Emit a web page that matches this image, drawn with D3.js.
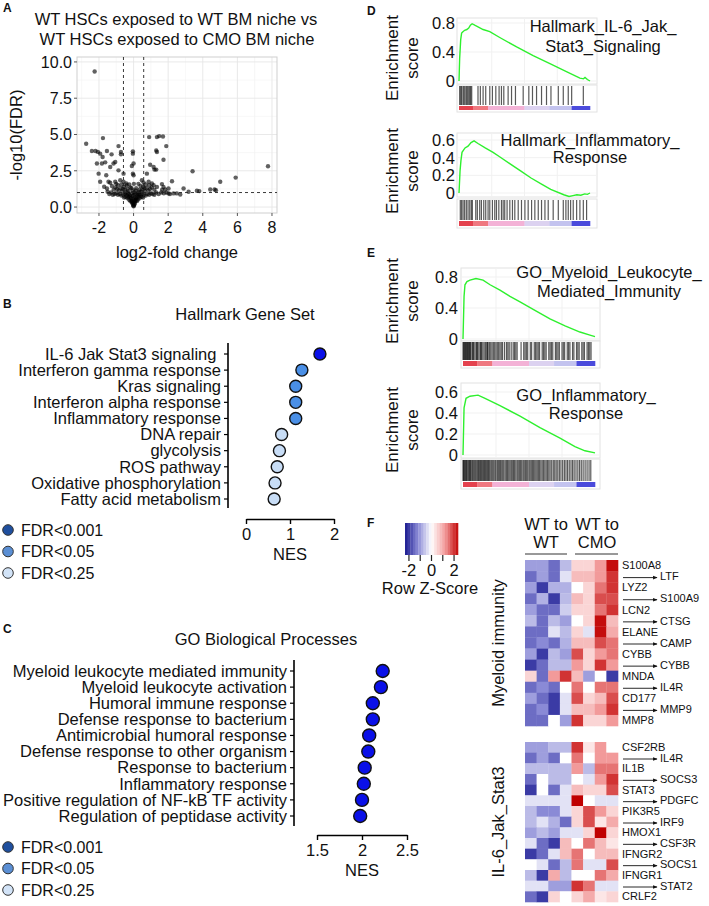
<!DOCTYPE html>
<html><head><meta charset="utf-8">
<script src="https://cdn.jsdelivr.net/npm/d3@7"></script>
<style>
body{margin:0;background:#fff;}
text{font-family:"Liberation Sans",Arial,Helvetica,sans-serif;fill:#111;}
</style>
</head><body>
<script>
// ---------------- DATA ----------------
// Panel A volcano: [log2 fold change, -log10(FDR)]
const volcanoPoints = [
 [-2.25,9.34],[-2.74,4.36],[-1.77,4.75],[-0.87,4.2],[-2.41,3.86],[-2.2,3.86],[-2.06,3.8],[-1.93,3.68],[-1.54,3.86],[-1.79,3.45],
 [-1.27,3.63],[-0.73,3.8],[-0.73,3.63],[-0.04,3.84],[-0.04,3.68],[0,3.0],[-0.1,2.83],[-2.12,3.0],[-1.83,3.0],[-1.64,3.08],
 [-1.16,3.0],[-1.06,3.1],[-1.35,2.76],[-0.87,2.53],[-2.02,2.3],[-1.58,2.19],[-0.58,2.3],[-0.04,2.3],[0,2.19],[-1.93,1.74],
 [-1.45,1.74],[-1.35,1.67],[-1.06,1.74],[-0.77,1.85],[-0.58,1.74],[-0.42,1.62],[-1.7,1.4],[-1.54,1.28],
 [0.9,4.82],[1.35,4.82],[1.48,4.89],[1.7,4.86],[1.89,4.2],[1.31,3.9],[1.35,3.79],[1.73,3.26],[0.96,2.92],[1.16,2.76],
 [1.21,2.58],[1.31,2.58],[0.77,2.3],[3.41,2.47],[7.77,2.81],[5.9,2.03],[5.01,1.74],[2.22,1.78],[1.64,1.58],[1.73,1.39],
 [1.83,1.21],[2.02,1.28],[2.89,1.28],[3.18,1.05],[3.66,1.12],[3.8,1.1],[4.43,1.21],[4.68,1.21],[4.76,1.16],[2.7,0.87],
 [2.31,0.94],[2.02,0.94],[2.5,0.94],[0.48,1.85],[0.58,1.69],[0.87,1.74],[1.06,1.62],[1.16,1.5],[1.35,1.39],
 [0,0.05],[0.02,0.1],[-0.02,0.12],[0.05,0.2],[-0.05,0.22],[0.08,0.3],[-0.08,0.3],[0.1,0.4],[-0.1,0.38],[0.12,0.5],
 [-0.12,0.48],[0.15,0.6],[-0.15,0.62],[0.18,0.7],[-0.2,0.72],[0.22,0.82],[-0.22,0.8],[0,0.3],[0.03,0.45],[-0.03,0.55],
 [0.06,0.65],[-0.06,0.75],[0,0.85],[0.1,0.9],[-0.1,0.95],[0.25,0.95],[-0.28,0.92],[0.3,1.05],[-0.3,1.1],[0.35,1.2],
 [-0.35,1.25],[0.05,1.0],[-0.05,1.15],[0.15,1.3],[-0.18,1.35],[0.4,1.45],[-0.4,1.5],[0.02,1.6],[-0.25,1.55],[0.28,1.6],
 [-0.5,0.9],[-0.6,0.85],[-0.7,0.8],[-0.8,0.9],[-0.9,0.85],[-1.0,0.95],[-1.1,0.9],[-1.2,0.85],[-1.3,1.0],[-1.4,0.9],
 [-1.5,1.05],[-0.5,1.2],[-0.65,1.1],[-0.75,1.3],[-0.85,1.15],[-0.95,1.25],[-1.05,1.35],[-1.15,1.2],[-1.25,1.45],[-0.55,1.4],
 [-0.7,1.55],[-0.9,1.5],[-1.0,1.6],[-0.45,0.7],[-0.55,0.65],[-0.35,0.6],[-0.4,0.8],[-0.3,0.7],[-0.25,0.5],[-0.18,0.4],
 [0.5,0.9],[0.6,0.85],[0.7,0.8],[0.8,0.9],[0.9,0.85],[1.0,0.95],[1.1,0.9],[1.2,0.85],[1.3,1.0],[1.45,0.9],
 [1.6,1.0],[1.75,0.95],[0.5,1.2],[0.65,1.1],[0.75,1.3],[0.85,1.15],[0.95,1.25],[1.05,1.35],[1.2,1.2],[0.55,1.4],
 [0.7,1.55],[0.9,1.5],[0.45,0.7],[0.55,0.65],[0.35,0.6],[1.9,1.0],[2.1,0.9],[1.65,1.2],[0.4,0.8],[0.3,0.72],
 [0.25,0.52],[0.2,0.42],[0.32,0.88],[-0.33,0.95],[0.45,1.05],[-0.45,1.0],[0.62,1.3],[-0.62,1.25],[0.12,1.15],[-0.12,1.3]
];
const volcanoXTicks = [-2,0,2,4,6,8];
const volcanoYTicks = [0,2.5,5,7.5,10];

// Panel B
const hallmarkSets = ["IL-6 Jak Stat3 signaling\u00a0","Interferon gamma response","Kras signaling","Interferon alpha response",
  "Inflammatory response","DNA repair","glycolysis","ROS pathway","Oxidative phosphorylation","Fatty acid metabolism"];
const hallmarkNES = [1.68,1.27,1.13,1.13,1.13,0.81,0.76,0.71,0.66,0.64];
const hallmarkFDRClass = [0,1,1,1,1,2,2,2,2,2];
const hallmarkTicks = [0,1,2];

// Panel C
const goSets = ["Myeloid leukocyte mediated immunity","Myeloid leukocyte activation","Humoral immune response",
  "Defense response to bacterium","Antimicrobial humoral response","Defense response to other organism",
  "Response to bacterium","Inflammatory response","Positive regulation of NF-kB TF activity","Regulation of peptidase activity"];
const goNES = [2.23,2.21,2.12,2.12,2.08,2.07,2.03,2.02,2.0,1.98];
const goFDRClass = [0,0,0,0,0,0,0,0,0,0];
const goTicks = [1.5,2,2.5];
const fdrLegendLabels = ["FDR<0.001","FDR<0.05","FDR<0.25"];

// Panels D/E: running enrichment score [rank fraction, ES] and hit positions (rank fraction)
const il6ES = [[0,0],[0.005,0.31],[0.013,0.57],[0.02,0.66],[0.03,0.68],[0.043,0.7],[0.06,0.71],[0.074,0.73],[0.087,0.77],
  [0.1,0.79],[0.12,0.77],[0.184,0.71],[0.235,0.68],[0.311,0.6],[0.44,0.47],[0.566,0.35],[0.694,0.24],[0.82,0.13],
  [0.923,0.04],[0.95,0.03],[0.962,0.05],[0.98,0.02],[1,0]];
const il6Hits = [0.005,0.013,0.02,0.031,0.038,0.046,0.056,0.064,0.074,0.082,0.089,0.097,0.145,0.163,0.184,0.204,0.235,
  0.255,0.281,0.306,0.324,0.342,0.375,0.401,0.431,0.49,0.533,0.561,0.592,0.63,0.668,0.702,0.758,0.796,0.834,0.86,0.949];
const inflES = [[0,0],[0.008,0.25],[0.015,0.37],[0.023,0.46],[0.046,0.51],[0.069,0.53],[0.092,0.57],[0.115,0.59],
  [0.145,0.56],[0.2,0.51],[0.26,0.46],[0.31,0.41],[0.39,0.33],[0.47,0.25],[0.55,0.17],[0.63,0.1],[0.7,0.04],
  [0.8,-0.02],[0.84,-0.04],[0.87,-0.03],[0.9,-0.02],[0.93,-0.025],[0.96,-0.01],[0.98,-0.015],[1,0]];
const inflHits = [0.01,0.02,0.031,0.043,0.056,0.069,0.082,0.094,0.102,0.128,0.14,0.158,0.171,0.189,0.204,0.222,0.235,
  0.255,0.273,0.286,0.304,0.324,0.337,0.349,0.367,0.388,0.408,0.426,0.452,0.477,0.503,0.528,0.554,0.579,0.605,0.63,
  0.656,0.681,0.719,0.758,0.796,0.816,0.834,0.852,0.872,0.898,0.923,0.949,0.974];
const myeloidES = [[0,0],[0.008,0.55],[0.015,0.7],[0.03,0.74],[0.053,0.76],[0.098,0.78],[0.152,0.76],[0.205,0.7],
  [0.28,0.63],[0.356,0.55],[0.432,0.48],[0.545,0.37],[0.659,0.26],[0.773,0.17],[0.886,0.09],[0.962,0.05],[1,0.03]];
const myeloidHits = [0,0.005,0.01,0.015,0.02,0.025,0.03,0.035,0.04,0.045,0.05,0.055,0.06,0.07,0.075,0.08,0.09,0.1,0.105,
  0.11,0.12,0.13,0.135,0.14,0.15,0.16,0.17,0.18,0.185,0.19,0.2,0.21,0.22,0.23,0.24,0.25,0.26,0.27,0.28,0.29,0.3,0.315,
  0.33,0.34,0.35,0.365,0.38,0.39,0.4,0.41,0.44,0.46,0.47,0.48,0.49,0.51,0.52,0.54,0.55,0.56,0.57,0.58,0.6,0.61,0.62,
  0.63,0.65,0.66,0.67,0.68,0.7,0.71,0.72,0.73,0.75,0.76,0.77,0.79,0.8,0.81,0.83,0.84,0.86,0.87,0.88,0.9,0.91,0.92,
  0.94,0.95,0.96,0.97];
const goInflES = [[0,0],[0.008,0.45],[0.023,0.54],[0.053,0.56],[0.114,0.57],[0.167,0.54],[0.28,0.47],[0.432,0.37],
  [0.583,0.26],[0.735,0.16],[0.848,0.08],[0.924,0.04],[1,0.02]];
const goInflHits = [0,0.004,0.009,0.014,0.02,0.026,0.031,0.038,0.044,0.05,0.056,0.062,0.07,0.076,0.083,0.09,0.097,0.105,
  0.112,0.118,0.126,0.133,0.14,0.148,0.156,0.163,0.17,0.178,0.186,0.193,0.2,0.21,0.218,0.226,0.234,0.243,0.25,0.26,
  0.268,0.277,0.285,0.294,0.302,0.31,0.32,0.33,0.338,0.347,0.356,0.365,0.373,0.382,0.39,0.4,0.41,0.418,0.427,0.436,
  0.445,0.455,0.463,0.472,0.48,0.49,0.5,0.508,0.517,0.526,0.535,0.544,0.553,0.562,0.571,0.58,0.59,0.6,0.61,0.62,
  0.63,0.64,0.65,0.66,0.672,0.684,0.695,0.706,0.718,0.73,0.742,0.755,0.768,0.78,0.792,0.805,0.818,0.83,0.842,0.856,
  0.87,0.883,0.896,0.91,0.925,0.94,0.955,0.968];

// Panel F heatmap (row Z-scores), columns: 4 x WT to WT, 4 x WT to CMO
const heatGroups = ["WT to|WT","WT to|CMO"];
const myeloidGenes = ["S100A8","LTF","LYZ2","S100A9","LCN2","CTSG","ELANE","CAMP","CYBB","CYBB","MNDA","IL4R","CD177","MMP9","MMP8"];
const myeloidZ = [
 [-1,-1,-1.5,-0.7,0.5,0.5,1.2,2.3],
 [-1.5,-1,-1.5,-0.3,0.8,0.8,1.2,2],
 [-1,-2,-0.8,-0.8,0,0.5,1.5,2],
 [-1.5,-0.8,-2,-0.7,0.8,0.5,1.8,1.8],
 [-1,-1.5,-1.5,-0.5,0.5,0.5,1.5,2],
 [-0.7,-1.5,-0.7,-1,0,0.5,2.3,0.8],
 [-1.5,-1.5,-0.3,-0.7,0.5,-0.3,2.3,1],
 [-1.5,-1.2,-1.5,-0.8,0.8,0.8,1.8,1.5],
 [-1,-2,-0.7,-1,1.8,0.5,1.2,1.5],
 [-2,-1.5,-0.7,-0.7,1.2,0.5,2,1.2],
 [0.5,-1.5,1.2,2,0.8,-1,0,-2],
 [-1.5,-1.2,-1.5,0,1.5,0,1.5,1.5],
 [-1,-1.5,-2,-0.3,1.8,0.5,0.8,1.8],
 [-1.5,-1.2,-2,-0.3,0.8,0.8,1.2,2],
 [-1.5,-1.5,0,-1,2,0.5,0.5,1.2]];
const il6Genes = ["CSF2RB","IL4R","IL1B","SOCS3","STAT3","PDGFC","PIK3R5","IRF9","HMOX1","CSF3R","IFNGR2","SOCS1","IFNGR1","STAT2","CRLF2"];
const il6Z = [
 [-1,-1,-0.7,-0.7,2,0.3,1.2,0],
 [-1.5,-1,-1.5,0,1.5,0,1.2,1.2],
 [-0.7,-0.7,-0.7,-0.7,1.2,-0.7,1.5,1.5],
 [-1.5,0,-0.7,-0.7,0,-0.3,1.2,2],
 [-2,0,-1.5,-0.3,0.8,0.5,0.5,1.8],
 [-0.3,-0.3,-0.3,-0.3,2.5,0,-0.3,-0.3],
 [-0.7,-1.2,-1.2,-0.3,0.5,1.8,1.2,0.5],
 [-0.7,-0.3,-0.8,-1.5,0.5,1.8,0.3,1],
 [-1,-0.7,-1,-0.3,-0.3,0.5,2.5,0.5],
 [-0.3,-1.5,-2,0.8,0,1.5,0.8,0.3],
 [-2,-1.5,-0.3,0.8,1.5,0,0.8,0.8],
 [0,-0.3,-1.5,-0.7,1.5,-0.3,-0.3,1.8],
 [-0.7,-2,1,-0.7,0,0,1.5,1],
 [-0.3,-0.3,-1,-1,2,1.5,-0.3,-0.3],
 [-1.5,-2,0.5,0,0.5,1,0.3,0.5]];
const keyTicks = [-2,-1,0,1,2];
const keyTickLabels = [-2,0,2];

// ---------------- DRAWING ----------------
const W = 709, H = 906;
const svg = d3.select("body").append("svg").attr("width", W).attr("height", H);
const FS = "16.5px";

function letter(t, x, y){ svg.append("text").attr("x",x).attr("y",y).attr("font-size","12px").attr("font-weight","bold").text(t); }
letter("A",3,12); letter("B",3,308); letter("C",3,633); letter("D",367,15); letter("E",367,257); letter("F",367,527);

// ===== Panel A =====
(function(){
  const g = svg.append("g");
  const x = d3.scaleLinear().domain([-3.27, 8.29]).range([77, 277]);
  const y = d3.scaleLinear().domain([-0.41, 10.34]).range([213, 57]);
  g.append("text").attr("x",176).attr("y",25).attr("text-anchor","middle").attr("font-size",FS).text("WT HSCs exposed to WT BM niche vs");
  g.append("text").attr("x",177).attr("y",45).attr("text-anchor","middle").attr("font-size",FS).text("WT HSCs exposed to CMO BM niche");
  const xMinor = volcanoXTicks.map(v=>v-1).concat([7]);
  const yMinor = volcanoYTicks.slice(0,-1).map(v=>v+1.25);
  g.selectAll(".xm").data(xMinor).join("line").attr("x1",d=>x(d)).attr("x2",d=>x(d)).attr("y1",57).attr("y2",213).attr("stroke","#f3f3f3").attr("stroke-width",0.6);
  g.selectAll(".ym").data(yMinor).join("line").attr("y1",d=>y(d)).attr("y2",d=>y(d)).attr("x1",77).attr("x2",277).attr("stroke","#f3f3f3").attr("stroke-width",0.6);
  g.selectAll(".xg").data(volcanoXTicks).join("line").attr("x1",d=>x(d)).attr("x2",d=>x(d)).attr("y1",57).attr("y2",213).attr("stroke","#e6e6e6").attr("stroke-width",0.9);
  g.selectAll(".yg").data(volcanoYTicks).join("line").attr("y1",d=>y(d)).attr("y2",d=>y(d)).attr("x1",77).attr("x2",277).attr("stroke","#e6e6e6").attr("stroke-width",0.9);
  g.append("rect").attr("x",77).attr("y",57).attr("width",200).attr("height",156).attr("fill","none").attr("stroke","#cfcfcf").attr("stroke-width",1);
  g.selectAll(".xt").data(volcanoXTicks).join("line").attr("x1",d=>x(d)).attr("x2",d=>x(d)).attr("y1",213).attr("y2",216).attr("stroke","#555");
  g.selectAll(".yt").data(volcanoYTicks).join("line").attr("y1",d=>y(d)).attr("y2",d=>y(d)).attr("x1",74).attr("x2",77).attr("stroke","#555");
  g.selectAll(".xl").data(volcanoXTicks).join("text").attr("x",d=>x(d)).attr("y",233).attr("text-anchor","middle").attr("font-size","16px").text(d=>d);
  g.selectAll(".yl").data(volcanoYTicks).join("text").attr("x",72).attr("y",d=>y(d)).attr("dy","0.36em").attr("text-anchor","end").attr("font-size","16px").text(d=>d3.format(".1f")(d));
  g.append("text").attr("x",177).attr("y",258).attr("text-anchor","middle").attr("font-size",FS).text("log2-fold change");
  g.append("text").attr("transform","translate(22,135) rotate(-90)").attr("text-anchor","middle").attr("font-size",FS).text("-log10(FDR)");
  g.selectAll(".pt").data(volcanoPoints).join("circle").attr("cx",d=>x(d[0])).attr("cy",d=>y(d[1])).attr("r",2.2).attr("fill","#000").attr("fill-opacity",0.62);
  const dash = "3,3";
  [-0.585,0.585].forEach(v=>g.append("line").attr("x1",x(v)).attr("x2",x(v)).attr("y1",57).attr("y2",213).attr("stroke","#222").attr("stroke-dasharray",dash).attr("stroke-width",0.9));
  g.append("line").attr("x1",77).attr("x2",277).attr("y1",y(1)).attr("y2",y(1)).attr("stroke","#222").attr("stroke-dasharray",dash).attr("stroke-width",0.9);
})();

// ===== Dot plots B & C =====
const dotFill = ["#0a10e8","#4a8fe6","#c8ddf6"];
const legendFill = ["#1f4f9e","#5b8fd4","#d2e3f7"];
function dotPlot(cfg){
  const g = svg.append("g");
  const y = d3.scalePoint().domain(cfg.sets).range([cfg.rowTop, cfg.rowBottom]);
  const x = d3.scaleLinear().domain(cfg.domain).range(cfg.range);
  g.append("text").attr("x",cfg.titleX).attr("y",cfg.titleY).attr("text-anchor","middle").attr("font-size",FS).text(cfg.title);
  g.append("line").attr("x1",cfg.axisX).attr("x2",cfg.axisX).attr("y1",cfg.axisTop).attr("y2",cfg.axisBottom).attr("stroke","#000").attr("stroke-width",1.6);
  g.selectAll(".tk").data(cfg.sets).join("line").attr("x1",cfg.axisX-4).attr("x2",cfg.axisX).attr("y1",d=>y(d)).attr("y2",d=>y(d)).attr("stroke","#000").attr("stroke-width",1.2);
  g.selectAll(".lb").data(cfg.sets).join("text").attr("x",cfg.axisX-7).attr("y",d=>y(d)).attr("dy","0.35em").attr("text-anchor","end").attr("font-size",FS).text(d=>d);
  const ax = g.append("g").attr("transform",`translate(0,${cfg.xAxisY})`)
    .call(d3.axisBottom(x).tickValues(cfg.ticks).tickSize(5).tickSizeOuter(0).tickPadding(4).tickFormat(d=>d));
  ax.select(".domain").attr("stroke-width",1.6);
  ax.selectAll(".tick line").attr("stroke-width",1.4);
  ax.selectAll(".tick text").attr("font-size",FS).attr("font-family","Liberation Sans,Arial,sans-serif").attr("fill","#111");
  g.append("text").attr("x",(cfg.range[0]+cfg.range[1])/2).attr("y",cfg.xAxisY+41).attr("text-anchor","middle").attr("font-size",FS).text("NES");
  g.selectAll(".dt").data(cfg.nes).join("circle").attr("cx",d=>x(d)).attr("cy",(d,i)=>y(cfg.sets[i])).attr("r",cfg.r)
    .attr("fill",(d,i)=>dotFill[cfg.cls[i]]).attr("stroke","#111").attr("stroke-width",1.4);
  g.selectAll(".lg").data(fdrLegendLabels).join("circle").attr("cx",8).attr("cy",(d,i)=>cfg.legendY+i*21.5).attr("r",5.3)
    .attr("fill",(d,i)=>legendFill[i]).attr("stroke","#333").attr("stroke-width",1);
  g.selectAll(".lt").data(fdrLegendLabels).join("text").attr("x",21).attr("y",(d,i)=>cfg.legendY+i*21.5).attr("dy","0.36em").attr("font-size","16px").text(d=>d);
}
dotPlot({sets:hallmarkSets, nes:hallmarkNES, cls:hallmarkFDRClass, ticks:hallmarkTicks, domain:[0,2], range:[246,334],
  rowTop:354, rowBottom:499, axisX:228, axisTop:343, axisBottom:508, xAxisY:519, title:"Hallmark Gene Set", titleX:245, titleY:320,
  r:6, legendY:530});
dotPlot({sets:goSets, nes:goNES, cls:goFDRClass, ticks:goTicks, domain:[1.5,2.5], range:[317,407],
  rowTop:671, rowBottom:816, axisX:294, axisTop:660, axisBottom:826, xAxisY:835, title:"GO Biological Processes", titleX:266, titleY:645,
  r:6.5, legendY:847});

// ===== GSEA D & E =====
const barSegs = [[0,0.107,"#e4424e"],[0.107,0.222,"#ef7880"],[0.222,0.5,"#f3b2d6"],[0.5,0.69,"#dcd2f0"],[0.69,0.86,"#c3c3ef"],[0.86,1,"#4b4bdc"]];
function gsea(c){
  const g = svg.append("g");
  const x = d3.scaleLinear().domain([0,1]).range([c.x0, c.x1]);
  const y = d3.scaleLinear().domain([0, c.tickMax]).range([c.zeroY, c.maxY]);
  g.append("rect").attr("x",c.boxL).attr("y",c.esTop).attr("width",c.boxR-c.boxL).attr("height",c.esBottom-c.esTop).attr("fill","#fff").attr("stroke","#e2e2e2");
  [0.25,0.5,0.75].forEach(f=>g.append("line").attr("x1",x(f)).attr("x2",x(f)).attr("y1",c.esTop).attr("y2",c.esBottom).attr("stroke","#f1f1f1"));
  c.ticks.forEach(t=>g.append("line").attr("x1",c.boxL).attr("x2",c.boxR).attr("y1",y(t)).attr("y2",y(t)).attr("stroke","#f1f1f1"));
  g.append("rect").attr("x",c.boxL).attr("y",c.hitTop-1).attr("width",c.boxR-c.boxL).attr("height",c.barBottom-c.hitTop+3).attr("fill","#fff").attr("stroke","#e2e2e2");
  g.selectAll(".hit").data(c.hits).join("line").attr("x1",d=>x(d)).attr("x2",d=>x(d)).attr("y1",c.hitTop).attr("y2",c.hitBottom)
    .attr("stroke","#000").attr("stroke-opacity",0.65).attr("stroke-width",1.2);
  g.selectAll(".bar").data(barSegs).join("rect").attr("x",d=>x(d[0])).attr("width",d=>x(d[1])-x(d[0])+0.3).attr("y",c.hitBottom+1).attr("height",c.barBottom-c.hitBottom-1).attr("fill",d=>d[2]);
  g.append("path").datum(c.es).attr("d",d3.line().x(d=>x(d[0])).y(d=>y(d[1]))).attr("fill","none").attr("stroke","#2ef02e").attr("stroke-width",1.4);
  g.selectAll(".yl").data(c.ticks).join("text").attr("x",c.labelRight).attr("y",d=>y(d)).attr("dy","0.36em").attr("text-anchor","end").attr("font-size",FS)
    .text(d=>d===0?"0":d.toFixed(1));
  g.append("text").attr("transform",`translate(398,${c.titleMidY}) rotate(-90)`).attr("text-anchor","middle").attr("font-size","17px").text("Enrichment");
  g.append("text").attr("transform",`translate(418,${c.titleMidY}) rotate(-90)`).attr("text-anchor","middle").attr("font-size","17px").text("score");
  c.title.forEach((t,i)=>g.append("text").attr("x",c.titleX).attr("y",c.titleY[i]).attr("text-anchor","middle").attr("font-size",FS).text(t));
}
gsea({es:il6ES, hits:il6Hits, x0:459, x1:590, boxL:457, boxR:597, esTop:18, esBottom:84, zeroY:81, maxY:23, tickMax:0.8, ticks:[0,0.4,0.8],
  hitTop:86, hitBottom:105, barBottom:110, labelRight:455, titleMidY:58, title:["Hallmark_IL-6_Jak_","Stat3_Signaling"], titleX:603, titleY:[32,52]});
gsea({es:inflES, hits:inflHits, x0:459, x1:590, boxL:457, boxR:597, esTop:133, esBottom:197, zeroY:193, maxY:140, tickMax:0.6, ticks:[0,0.2,0.4,0.6],
  hitTop:200, hitBottom:220, barBottom:226, labelRight:455, titleMidY:171, title:["Hallmark_Inflammatory_","Response"], titleX:590, titleY:[146,163]});
gsea({es:myeloidES, hits:myeloidHits, x0:463, x1:595, boxL:461, boxR:600, esTop:268, esBottom:341, zeroY:339, maxY:277, tickMax:0.8, ticks:[0,0.4,0.8],
  hitTop:342, hitBottom:360, barBottom:366, labelRight:458, titleMidY:301, title:["GO_Myeloid_Leukocyte_","Mediated_Immunity"], titleX:609, titleY:[278,297]});
gsea({es:goInflES, hits:goInflHits, x0:463, x1:595, boxL:461, boxR:600, esTop:383, esBottom:458, zeroY:455, maxY:392, tickMax:0.6, ticks:[0,0.2,0.4,0.6],
  hitTop:460, hitBottom:481, barBottom:487, labelRight:458, titleMidY:430, title:["GO_Inflammatory_","Response"], titleX:586, titleY:[401,419]});

// ===== Panel F =====
(function(){
  const g = svg.append("g");
  const color = d3.scaleLinear().domain([-2.4,-1.2,0,1.2,2.4]).range(["#14148c","#8a8ad6","#ffffff","#f29a9a","#c00000"]).clamp(true);
  const kx = d3.scaleLinear().domain([-2.35,2.35]).range([405,458]);
  const steps = d3.range(-2.35, 2.35, 4.7/20);
  g.selectAll(".ks").data(steps).join("rect").attr("x",d=>kx(d)).attr("width",53/20+0.3).attr("y",523).attr("height",32).attr("fill",d=>color(d+4.7/40));
  g.selectAll(".kt").data(keyTicks).join("line").attr("x1",d=>kx(d)).attr("x2",d=>kx(d)).attr("y1",555).attr("y2",561).attr("stroke","#222").attr("stroke-width",1.2);
  g.selectAll(".kl").data(keyTickLabels).join("text").attr("x",d=>kx(d)).attr("y",576).attr("text-anchor","middle").attr("font-size",FS).text(d=>d);
  g.append("text").attr("x",430).attr("y",594).attr("text-anchor","middle").attr("font-size",FS).text("Row Z-Score");
  const x = d3.scaleBand().domain(d3.range(8)).range([525,618]);
  heatGroups.forEach((h,i)=>{
    const parts = h.split("|");
    const cx = i===0 ? 546 : 597;
    g.append("text").attr("x",cx).attr("y",530).attr("text-anchor","middle").attr("font-size",FS).text(parts[0]);
    g.append("text").attr("x",cx).attr("y",548).attr("text-anchor","middle").attr("font-size",FS).text(parts[1]);
    g.append("line").attr("x1",i===0?525:575).attr("x2",i===0?567:618).attr("y1",554).attr("y2",554).attr("stroke","#333").attr("stroke-width",1);
  });
  svg.append("defs").append("marker").attr("id","arr").attr("viewBox","0 0 8 8").attr("refX",7).attr("refY",4)
    .attr("markerWidth",5).attr("markerHeight",5).attr("orient","auto")
    .append("path").attr("d","M0,0.8 L8,4 L0,7.2 Z").attr("fill","#111");
  function block(genes, Z, top, bottom, label){
    const y = d3.scaleBand().domain(d3.range(genes.length)).range([top,bottom]);
    Z.forEach((row,ri)=>{
      g.selectAll(null).data(row).join("rect").attr("x",(d,ci)=>x(ci)).attr("y",y(ri)).attr("width",x.bandwidth()+0.3).attr("height",y.bandwidth()+0.3).attr("fill",d=>color(d));
    });
    genes.forEach((gn,i)=>{
      const cy = y(i)+y.bandwidth()/2;
      if(i%2===0){
        g.append("text").attr("x",622).attr("y",cy).attr("dy","0.34em").attr("font-size","11px").text(gn);
      } else {
        g.append("line").attr("x1",623).attr("x2",657).attr("y1",cy+1).attr("y2",cy+1).attr("stroke","#111").attr("stroke-width",0.9).attr("marker-end","url(#arr)");
        g.append("text").attr("x",660).attr("y",cy).attr("dy","0.34em").attr("font-size","11px").text(gn);
      }
    });
    g.append("text").attr("transform",`translate(504,${(top+bottom)/2}) rotate(-90)`).attr("text-anchor","middle").attr("font-size",FS).text(label);
  }
  block(myeloidGenes, myeloidZ, 560, 726, "Myeloid immunity");
  block(il6Genes, il6Z, 742, 902, "IL-6_Jak_Stat3");
})();
</script>
</body></html>
